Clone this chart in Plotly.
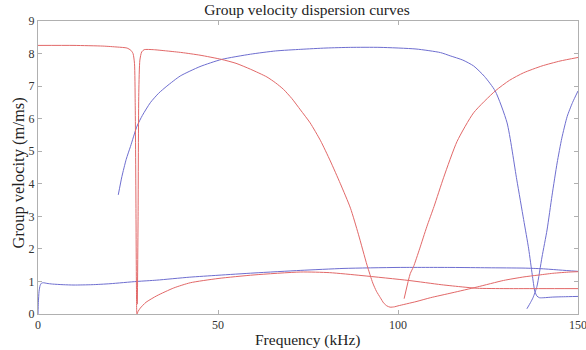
import plotly.graph_objects as go

# ---- data ----
# Blue, lowest branch
blue_low_x = [0, 0.1, 0.3, 0.6, 1.0, 1.5, 2.5, 4, 7, 10, 15, 20, 27.5, 33, 42, 50, 60, 73, 85, 100, 115, 125, 135, 140, 145, 150]
blue_low_y = [0, 0.35, 0.7, 0.88, 0.95, 0.96, 0.94, 0.92, 0.9, 0.89, 0.9, 0.93, 1.0, 1.04, 1.13, 1.19, 1.26, 1.34, 1.4, 1.43, 1.43, 1.42, 1.41, 1.39, 1.35, 1.31]

# Blue, big arch
blue_arch_x = [22.3, 23.3, 24.5, 25.7, 27.5, 29, 31.2, 33.5, 35.8, 39.5, 45, 51, 59, 66, 73, 80, 86.8, 95, 105, 111.8, 114.5, 118, 121, 124, 127, 130.3, 133, 134.9, 136.3, 137.3, 138.0, 138.6, 139.3, 140.5, 143, 146, 150]
blue_arch_y = [3.66, 4.22, 4.75, 5.15, 5.77, 6.1, 6.49, 6.78, 7.0, 7.31, 7.6, 7.82, 7.98, 8.08, 8.13, 8.17, 8.19, 8.19, 8.14, 8.03, 7.93, 7.8, 7.62, 7.3, 6.85, 5.87, 4.12, 2.9, 2.0, 1.2, 0.7, 0.55, 0.5, 0.5, 0.52, 0.53, 0.54]

# Blue, steep rise at the right
blue_rise_x = [135.8, 136.8, 137.5, 138.6, 140, 141.4, 142.8, 144.2, 145.5, 147, 148.5, 150]
blue_rise_y = [0.16, 0.35, 0.5, 0.85, 1.75, 2.58, 3.65, 4.64, 5.4, 6.07, 6.5, 6.85]

# Red, top-left flat with dip, then low branch
red_dip_x = [0, 10, 18, 22, 24.7, 25.8, 26.4, 26.8, 27.0, 27.2, 27.35, 27.5, 27.8, 28.4, 30, 33, 37.7, 42.3, 50, 60, 73, 81, 90, 103, 112, 118, 122, 130, 140, 150]
red_dip_y = [8.25, 8.25, 8.23, 8.2, 8.17, 8.1, 8.0, 7.7, 6.5, 3.5, 0.8, 0.0, 0.08, 0.18, 0.36, 0.56, 0.8, 0.96, 1.09, 1.2, 1.29, 1.27, 1.18, 1.03, 0.9, 0.83, 0.79, 0.78, 0.78, 0.78]

# Red, vertical rise, long descent, minimum, slow rise
red_desc_x = [27.6, 27.8, 28.0, 28.3, 28.8, 29.5, 32, 35.8, 40, 45, 51, 55, 59, 63.6, 66, 68.2, 70.5, 72.9, 75.6, 78.5, 81.2, 84, 86.8, 89, 91.4, 93, 94, 95.1, 96, 96.9, 97.8, 99, 100, 105, 109, 115, 122, 129.3, 135, 138.6, 143, 147.8, 150]
red_desc_y = [0.3, 3.0, 6.8, 7.8, 8.05, 8.12, 8.12, 8.08, 8.03, 7.95, 7.82, 7.7, 7.52, 7.28, 7.1, 6.9, 6.62, 6.27, 5.87, 5.32, 4.7, 4.0, 3.25, 2.45, 1.5, 0.95, 0.7, 0.5, 0.34, 0.25, 0.21, 0.22, 0.25, 0.38, 0.5, 0.65, 0.83, 1.03, 1.14, 1.19, 1.25, 1.29, 1.3]

# Red, steep rise from ~102 kHz
red_rise_x = [101.7, 103.4, 104.3, 106, 108, 110, 112.7, 116.4, 121, 127, 131, 134.9, 140, 145, 150]
red_rise_y = [0.47, 1.24, 1.45, 2.0, 2.68, 3.3, 4.2, 5.3, 6.18, 6.85, 7.18, 7.41, 7.62, 7.77, 7.88]

x_ticks = [0, 50, 100, 150]
y_ticks = [0, 1, 2, 3, 4, 5, 6, 7, 8, 9]

RED = "rgb(226,104,104)"
BLUE = "rgb(110,110,208)"
FONT = "Liberation Serif"

fig = go.Figure()
for xs, ys, col in [
    (blue_low_x, blue_low_y, BLUE),
    (blue_arch_x, blue_arch_y, BLUE),
    (blue_rise_x, blue_rise_y, BLUE),
    (red_dip_x, red_dip_y, RED),
    (red_desc_x, red_desc_y, RED),
    (red_rise_x, red_rise_y, RED),
]:
    fig.add_trace(go.Scatter(x=xs, y=ys, mode="lines", line=dict(color=col, width=1, shape="spline", smoothing=0.6),
                             showlegend=False, hoverinfo="skip"))

axis_common = dict(showline=True, linecolor="#b0b0b0", linewidth=1, mirror="ticks", ticks="inside",
                   ticklen=4, tickcolor="#b0b0b0", showgrid=False, zeroline=False,
                   ticklabeloverflow="allow", automargin=False,
                   tickfont=dict(family=FONT, size=12, color="#333333"))

fig.update_layout(
    width=586, height=350,
    margin=dict(l=38, r=8, t=21, b=36),
    paper_bgcolor="white", plot_bgcolor="white",
    font=dict(family=FONT, color="#222222"),
    title=dict(text="Group velocity dispersion curves", x=307/586, xanchor="center", xref="container",
               y=1 - 10/350, yanchor="middle", yref="container", font=dict(family=FONT, size=15.5, color="#222222")),
    xaxis=dict(range=[0, 150], tickvals=x_ticks, **axis_common),
    yaxis=dict(range=[0, 9], tickvals=y_ticks, **axis_common),
    annotations=[
        dict(text="Frequency (kHz)", xref="paper", yref="paper", x=(307.5 - 38) / 540, y=(313.5 - 339) / 293,
             xanchor="center", yanchor="middle", showarrow=False, font=dict(family=FONT, size=15.5, color="#222222")),
        dict(text="Group velocity (m/ms)", xref="paper", yref="paper", x=(18 - 38) / 540, y=(313.5 - 173) / 293,
             xanchor="center", yanchor="middle", textangle=-90, showarrow=False,
             font=dict(family=FONT, size=16.5, color="#222222")),
    ],
)

fig.write_html("out.html")
